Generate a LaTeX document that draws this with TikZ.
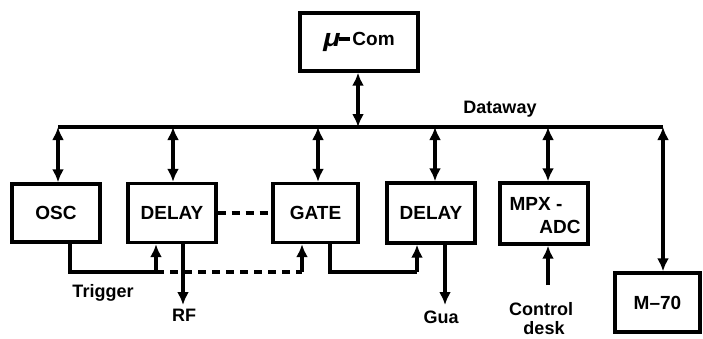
\documentclass[tikz,border=0pt]{standalone}
\usepackage{fontspec}
\setmainfont{Liberation Sans}
\usetikzlibrary{arrows.meta}
\begin{document}
\begin{tikzpicture}[x=1pt,y=-1pt,
  line width=3.2pt,
  blk/.style={draw,line width=3.4pt,font=\bfseries\fontsize{19}{21}\selectfont,inner sep=0pt},
  lbl/.style={font=\bfseries\fontsize{18}{20}\selectfont,inner sep=0pt},
  bi/.style={{Latex[length=13pt,width=12pt]}-{Latex[length=13pt,width=12pt]}},
  uni/.style={-{Latex[length=13pt,width=12pt]}},
  dsh/.style={dash pattern=on 8pt off 6pt}]
\useasboundingbox (0,0) rectangle (703,338);
% blocks
\node[blk,minimum width=118pt,minimum height=58pt] (mu) at (359,42)
  {\raisebox{-1pt}{\scalebox{1.5}[1.3]{\itshape μ}}\kern-1pt\rule[5pt]{11pt}{4pt}\kern2pt Com};
\node[blk,minimum width=88pt,minimum height=58pt] (osc) at (56,213) {OSC};
\node[blk,minimum width=88pt,minimum height=59pt] (d1) at (172,213) {DELAY};
\node[blk,minimum width=85pt,minimum height=59pt] (gate) at (315.5,213) {GATE};
\node[blk,minimum width=88pt,minimum height=60pt] (d2) at (431,213) {DELAY};
\node[blk,minimum width=88pt,minimum height=61pt] (mpx) at (544,213.5) {};
\node[lbl,font=\bfseries\fontsize{19}{21}\selectfont] (mpxa) at (536,203.5) {MPX -};
\node[lbl,font=\bfseries\fontsize{19}{21}\selectfont] (mpxb) at (560,226.5) {ADC};
\node[blk,minimum width=85pt,minimum height=59pt] (m70) at (657.5,302.5) {M--70};
% dataway
\coordinate (bL) at (58,127);
\coordinate (bR) at (663,127);
\draw (bL) -- (bR);
\node[lbl] (dw) at (500,109.5) {Dataway};
\draw[bi] (mu.south -| 358,0) -- (358,127);
\draw[bi] (bL) -- (bL |- osc.north);
\draw[bi] (173,127) -- (173,0 |- d1.north);
\draw[bi] (318,127) -- (318,0 |- gate.north);
\draw[bi] (435,127) -- (435,0 |- d2.north);
\draw[bi] (548,127) -- (548,0 |- mpx.north);
\draw[bi] (bR) -- (bR |- m70.north);
% dashed link delay-gate
\draw[dsh] (d1.east) -- (gate.west);
% trigger path
\coordinate (t1) at (156,272);
\coordinate (t2) at (302,272);
\draw (osc.south -| 70,0) |- (t1);
\draw[uni] (t1) -- (t1 |- d1.south);
\draw[dsh] (t1) -- (t2);
\draw[uni] (t2) -- (t2 |- gate.south);
\coordinate (t3) at (417,272);
\draw (gate.south -| 330,0) |- (t3);
\draw[uni] (t3) -- (t3 |- d2.south);
\node[lbl] (trig) at (103,293) {Trigger};
% outputs
\coordinate (rf) at (183,305);
\draw[uni] (d1.south -| rf) -- (rf);
\node[lbl] (rft) at (184,315) {RF};
\coordinate (gun) at (445,305);
\draw[uni] (d2.south -| gun) -- (gun);
\node[lbl] (gunt) at (441,317) {Gua};
\coordinate (cd) at (548,285);
\draw[uni] (cd) -- (cd |- mpx.south);
\node[lbl,text height=13pt,text depth=0pt,anchor=south] (cdt) at (541,317) {Control};
\node[lbl,text height=13pt,text depth=0pt,anchor=north] (cdt2) at (544,319.5) {desk};
\end{tikzpicture}
\end{document}
